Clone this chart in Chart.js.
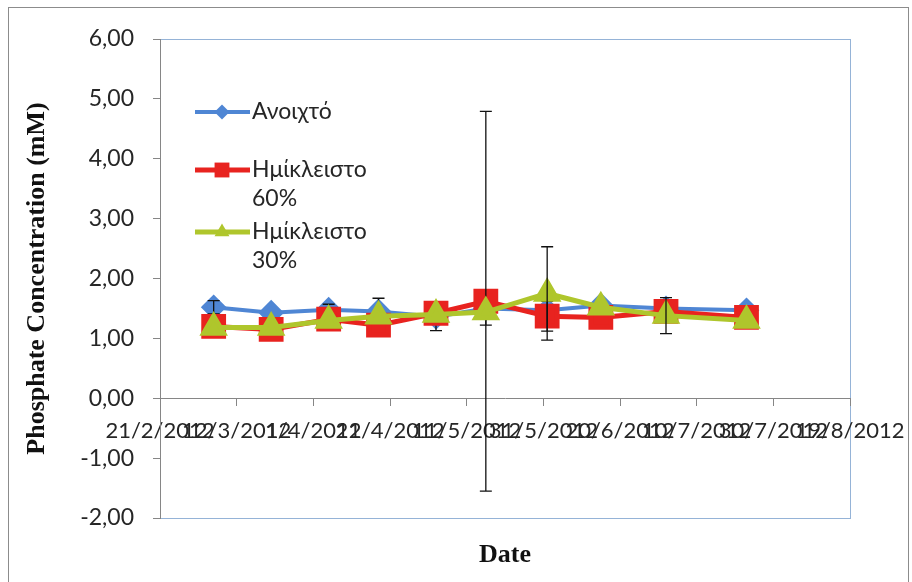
<!DOCTYPE html>
<html>
<head>
<meta charset="utf-8">
<script src="https://cdn.jsdelivr.net/npm/chart.js@4.4.0/dist/chart.umd.min.js"></script>
<style>
body { margin: 0; background: #fff; }
#wrap { position: relative; width: 912px; height: 582px; }
</style>
</head>
<body>
<div id="wrap"><canvas id="phosphateChart" width="912" height="582"></canvas></div>
<script>
// sampling dates and values (mM)
const sampleDates = ['6/3/2012', '21/3/2012', '5/4/2012', '18/4/2012', '3/5/2012', '16/5/2012', '1/6/2012', '15/6/2012', '2/7/2012', '23/7/2012'];
const xTickLabels = ['21/2/2012', '12/3/2012', '1/4/2012', '21/4/2012', '11/5/2012', '31/5/2012', '20/6/2012', '10/7/2012', '30/7/2012', '19/8/2012'];

const anoixto = [1.52, 1.43, 1.48, 1.45, 1.36, 1.50, 1.47, 1.55, 1.50, 1.47];
const miklisto60 = [1.20, 1.15, 1.32, 1.22, 1.42, 1.62, 1.37, 1.35, 1.45, 1.35];
const miklisto30 = [1.18, 1.18, 1.30, 1.37, 1.40, 1.44, 1.75, 1.52, 1.38, 1.30];

// error bar half-lengths (null = not shown)
const anoixtoErr = [0.11, null, 0.09, 0.22, 0.23, 0.28, null, null, null, null];
const miklisto60Err = [null, null, null, null, null, 3.17, 0.25, null, null, null];
const miklisto30Err = [null, null, null, null, null, null, 0.78, null, 0.30, null];

const textColor = '#262626';
const fontFamily = 'Lato, "Open Sans", sans-serif';

// days since 21/2/2012
function dayNum(s) {
    const p = s.split('/');
    const start = Date.UTC(2012, 1, 21);
    return Math.round((Date.UTC(+p[2], +p[1] - 1, +p[0]) - start) / 86400000);
}

function points(values) {
    return values.map((v, i) => ({ x: dayNum(sampleDates[i]), y: v }));
}

const frame = {
    id: 'frame',
    beforeDraw(chart) {
        const ctx = chart.ctx;
        const a = chart.chartArea;
        ctx.save();
        ctx.fillStyle = '#fff';
        ctx.fillRect(0, 0, chart.width, chart.height);
        ctx.strokeStyle = '#8c8c8c';
        ctx.lineWidth = 1;
        ctx.strokeRect(8.5, 7.5, 900, 620);
        ctx.strokeStyle = '#95b3d7';
        ctx.strokeRect(a.left + 0.5, a.top + 0.5, a.right - a.left, a.bottom - a.top);
        ctx.restore();
    }
};

const errorBars = {
    id: 'errorBars',
    afterDatasetDraw(chart, args) {
        const ds = chart.data.datasets[args.index];
        if (!ds.errors) return;
        const ctx = chart.ctx;
        const y = chart.scales.y;
        const meta = args.meta;
        ctx.save();
        ctx.strokeStyle = '#111';
        ctx.lineWidth = 1.3;
        ds.errors.forEach((e, i) => {
            if (e == null) return;
            const px = meta.data[i].x;
            const top = y.getPixelForValue(ds.data[i].y + e);
            const bot = y.getPixelForValue(ds.data[i].y - e);
            ctx.beginPath();
            ctx.moveTo(px, top); ctx.lineTo(px, bot);
            ctx.moveTo(px - 6, top); ctx.lineTo(px + 6, top);
            ctx.moveTo(px - 6, bot); ctx.lineTo(px + 6, bot);
            ctx.stroke();
        });
        ctx.restore();
    }
};

const legendAndTitle = {
    id: 'legendAndTitle',
    afterDraw(chart) {
        const ctx = chart.ctx;
        const rows = [
            { ds: 0, y: 112, lines: ['Ανοιχτό'] },
            { ds: 1, y: 170, lines: ['Ημίκλειστο', '60%'] },
            { ds: 2, y: 232, lines: ['Ημίκλειστο', '30%'] }
        ];
        ctx.save();
        rows.forEach(r => {
            const ds = chart.data.datasets[r.ds];
            ctx.strokeStyle = ds.borderColor;
            ctx.lineWidth = ds.borderWidth;
            ctx.beginPath();
            ctx.moveTo(195, r.y); ctx.lineTo(250, r.y);
            ctx.stroke();
            ctx.fillStyle = ds.backgroundColor;
            Chart.helpers.drawPoint(ctx, {
                pointStyle: ds.pointStyle, radius: ds.pointRadius * 0.75, rotation: 0, borderWidth: 0
            }, 222, r.y);
            ctx.fillStyle = textColor;
            ctx.font = '23px ' + fontFamily;
            ctx.textBaseline = 'middle';
            ctx.textAlign = 'left';
            r.lines.forEach((t, k) => ctx.fillText(t, 252, r.y + k * 29));
        });
        // x axis title
        ctx.font = 'bold 26px "Liberation Serif", "Times New Roman", serif';
        ctx.textAlign = 'center';
        ctx.fillStyle = '#111';
        ctx.fillText('Date', (chart.chartArea.left + chart.chartArea.right) / 2, 555);
        ctx.restore();
    }
};

const ctx = document.getElementById('phosphateChart').getContext('2d');
new Chart(ctx, {
    type: 'line',
    data: {
        datasets: [{
            label: 'Ανοιχτό',
            data: points(anoixto),
            errors: anoixtoErr,
            borderColor: '#4f86d4',
            backgroundColor: '#4f86d4',
            borderWidth: 4,
            pointStyle: 'rectRot',
            pointRadius: 10,
            order: 2
        }, {
            label: 'Ημίκλειστο 60%',
            data: points(miklisto60),
            errors: miklisto60Err,
            borderColor: '#e8231f',
            backgroundColor: '#e8231f',
            borderWidth: 5,
            pointStyle: 'rect',
            pointRadius: 14,
            order: 1
        }, {
            label: 'Ημίκλειστο 30%',
            data: points(miklisto30),
            errors: miklisto30Err,
            borderColor: '#afc62c',
            backgroundColor: '#afc62c',
            borderWidth: 5,
            pointStyle: 'triangle',
            pointRadius: 11.5,
            order: 0
        }]
    },
    options: {
        responsive: false,
        animation: false,
        layout: { padding: { left: 0, top: 39, right: 62, bottom: 64 } },
        elements: { line: { tension: 0 }, point: { borderWidth: 0, hoverRadius: 12 } },
        plugins: {
            legend: { display: false },
            tooltip: { enabled: false }
        },
        scales: {
            x: {
                type: 'linear',
                position: { y: 0 },
                min: 0,
                max: 180,
                afterFit: s => { s.paddingLeft = 0; s.paddingRight = 0; },
                grid: { drawOnChartArea: false, color: '#868686', tickLength: 7 },
                border: { color: '#868686' },
                ticks: {
                    stepSize: 20,
                    autoSkip: false,
                    maxRotation: 0,
                    minRotation: 0,
                    padding: 12,
                    color: textColor,
                    font: { family: fontFamily, size: 22 },
                    callback: (v, i) => xTickLabels[i]
                }
            },
            y: {
                min: -2,
                max: 6,
                afterFit: s => { s.width = 160; },
                grid: { drawOnChartArea: false, color: '#868686', tickLength: 7 },
                border: { color: '#868686' },
                ticks: {
                    stepSize: 1,
                    padding: 19,
                    color: textColor,
                    font: { family: fontFamily, size: 23 },
                    callback: v => v.toFixed(2).replace('.', ',')
                },
                title: {
                    display: true,
                    text: 'Phosphate Concentration (mM)',
                    color: '#111',
                    font: { family: '"Liberation Serif", "Times New Roman", serif', size: 26, weight: 'bold' },
                    padding: { top: 22, bottom: 0 }
                }
            }
        }
    },
    plugins: [frame, errorBars, legendAndTitle]
});
</script>
</body>
</html>
